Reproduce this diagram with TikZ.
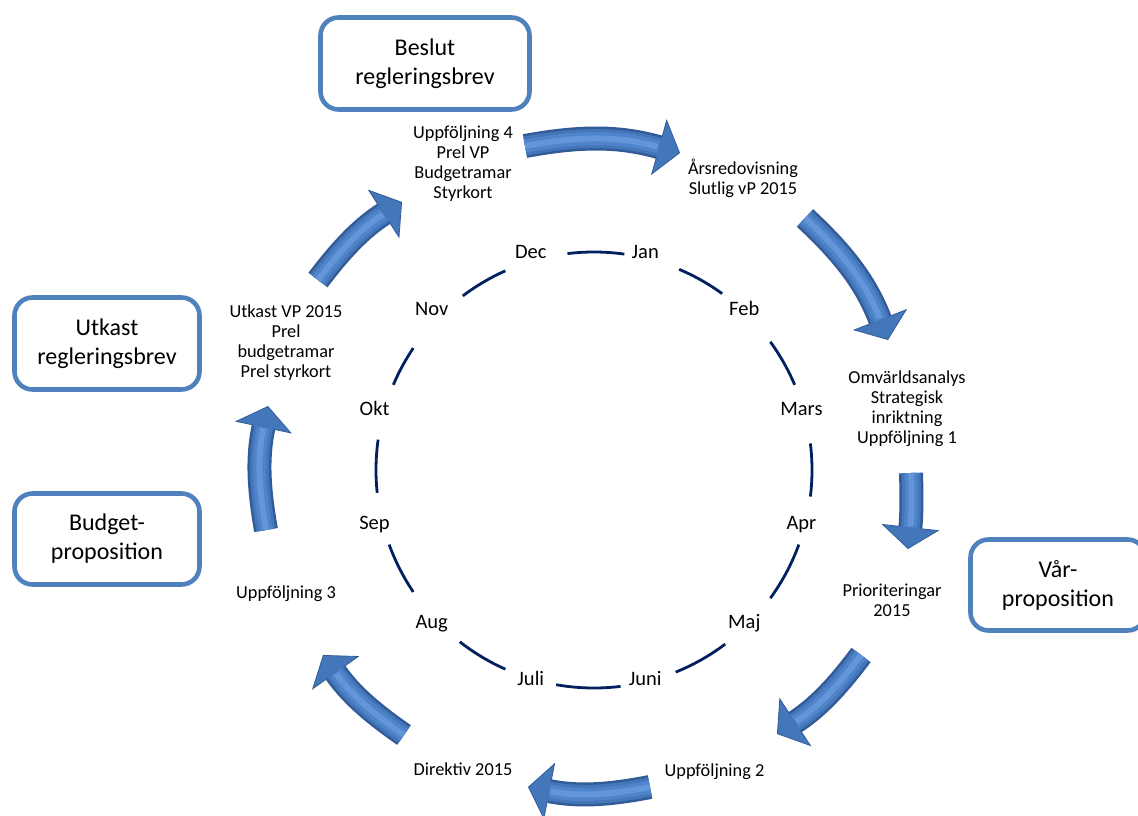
\documentclass[tikz,border=0pt]{standalone}
\usepackage{fontspec}
\setmainfont{Carlito}
\usetikzlibrary{arrows.meta, calc, positioning}
\definecolor{boxblue}{RGB}{79,129,189}
\definecolor{ringnavy}{RGB}{0,32,96}
\definecolor{arrowdark}{RGB}{50,92,152}
\definecolor{arrowmain}{RGB}{68,118,186}
\definecolor{arrowmid}{RGB}{80,132,202}
\definecolor{arrowlight}{RGB}{98,150,216}
\tikzset{
x=1pt, y=1pt, % one unit is one pixel of the layout
month/.style={font=\fontsize{20.5}{24}\selectfont, text height=13pt, text depth=4.5pt, inner sep=0pt}, % the month names round the ring
note/.style={align=center, font=\fontsize{18.3}{20}\selectfont, inner sep=0pt}, % what happens in each period
event/.style={draw=boxblue, line width=4.6pt, fill=white, rounded corners=18pt, align=center, font=\fontsize{24}{29}\selectfont, inner sep=0pt}, % the framed decisions
ring/.style={draw=ringnavy, line width=2.8pt}, % the broken circle
}
\tikzset{
  cyclearrow/.style={line width=24pt, draw=arrowdark, -{Triangle[length=22pt, width=58pt, line width=0.8pt, fill=arrowmain]},
    postaction={draw=arrowmain, line width=19pt, shorten >=21pt, -},
    postaction={draw=arrowmid, line width=13pt, shorten >=22pt, -},
    postaction={draw=arrowlight, line width=6pt, shorten >=23pt, -}}
}
\begin{document}
\begin{tikzpicture}
      \useasboundingbox (0,0) rectangle (1138,-816);
      \coordinate (ring) at (594,-470);
      \coordinate (mid) at (588,-468);

      % months
      \node[month] (mars) at ($(mid)+(15:221)$) {Mars};
      \node[month] (feb) at ($(mid)+(45:221)$) {Feb};
      \node[month] (jan) at ($(mid)+(75:221)$) {Jan};
      \node[month] (dec) at ($(mid)+(105:221)$) {Dec};
      \node[month] (nov) at ($(mid)+(135:221)$) {Nov};
      \node[month] (okt) at ($(mid)+(165:221)$) {Okt};
      \node[month] (sep) at ($(mid)+(195:221)$) {Sep};
      \node[month] (aug) at ($(mid)+(225:221)$) {Aug};
      \node[month] (juli) at ($(mid)+(255:221)$) {Juli};
      \node[month] (juni) at ($(mid)+(285:221)$) {Juni};
      \node[month] (maj) at ($(mid)+(315:221)$) {Maj};
      \node[month] (apr) at ($(mid)+(345:221)$) {Apr};

      \draw[ring] (ring) ++(-7:218) arc[start angle=-7, end angle=7, radius=218]
      (ring) ++(23:218) arc[start angle=23, end angle=36, radius=218]
      (ring) ++(54:218) arc[start angle=54, end angle=67, radius=218]
      (ring) ++(82:218) arc[start angle=82, end angle=97, radius=218]
      (ring) ++(114:218) arc[start angle=114, end angle=127, radius=218]
      (ring) ++(146:218) arc[start angle=146, end angle=157, radius=218]
      (ring) ++(172:218) arc[start angle=172, end angle=186, radius=218]
      (ring) ++(200:218) arc[start angle=200, end angle=214, radius=218]
      (ring) ++(232:218) arc[start angle=232, end angle=246, radius=218]
      (ring) ++(260:218) arc[start angle=260, end angle=277, radius=218]
      (ring) ++(292:218) arc[start angle=292, end angle=307, radius=218]
      (ring) ++(324:218) arc[start angle=324, end angle=340, radius=218];

      % what is done when
      \node[note] (u4) at (463,-164) {Uppföljning 4\\Prel VP\\Budgetramar\\Styrkort};
      \node[note] (ars) at (743,-178.5) {Årsredovisning\\Slutlig vP 2015};
      \node[note] (omv) at (907,-409) {Omvärldsanalys\\Strategisk\\inriktning\\Uppföljning 1};
      \node[note] (prio) at (892,-600.5) {Prioriteringar\\2015};
      \node[note] (u2) at (714.5,-771.5) {Uppföljning 2};
      \node[note] (dir) at (463,-769.5) {Direktiv 2015};
      \node[note] (u3) at (286,-594) {Uppföljning 3};
      \node[note] (utk) at (286,-343) {Utkast VP 2015\\Prel\\budgetramar\\Prel styrkort};

      % decisions
      \node[event, minimum width=209pt, minimum height=92pt] (beslut) at (425,-63.5) {Beslut\\regleringsbrev};
      \node[event, minimum width=185pt, minimum height=92pt] (utkast) at (107,-343.5) {Utkast\\regleringsbrev};
      \node[event, minimum width=185pt, minimum height=91pt] (budget) at (107,-539) {Budget-\\proposition};
      \node[event, minimum width=175pt, minimum height=91pt] (var) at (1058,-585) {Vår-\\proposition};

      % the year goes round
      \coordinate (s1) at (525,-146); \coordinate (e1) at (680,-153);
      \coordinate (s2) at (805,-218); \coordinate (e2) at (888,-340);
      \coordinate (s3) at (911,-473); \coordinate (e3) at (908,-549);
      \coordinate (s4) at (861,-655); \coordinate (e4) at (777,-734);
      \coordinate (s5) at (650,-787); \coordinate (e5) at (528,-787);
      \coordinate (s6) at (404,-735); \coordinate (e6) at (323,-655);
      \coordinate (s7) at (266,-530); \coordinate (e7) at (268,-406);
      \coordinate (s8) at (318,-280); \coordinate (e8) at (402,-202);

      \draw[cyclearrow] (s1) to[bend left=13] (e1);
      \draw[cyclearrow] (s2) to[bend left=13] (e2);
      \draw[cyclearrow] (s3) to[bend left=4] (e3);
      \draw[cyclearrow] (s4) to[bend left=10] (e4);
      \draw[cyclearrow] (s5) to[bend left=11] (e5);
      \draw[cyclearrow] (s6) to[bend left=10] (e6);
      \draw[cyclearrow] (s7) to[bend left=11] (e7);
      \draw[cyclearrow] (s8) to[bend left=10] (e8);
    \end{tikzpicture}
\end{document}
